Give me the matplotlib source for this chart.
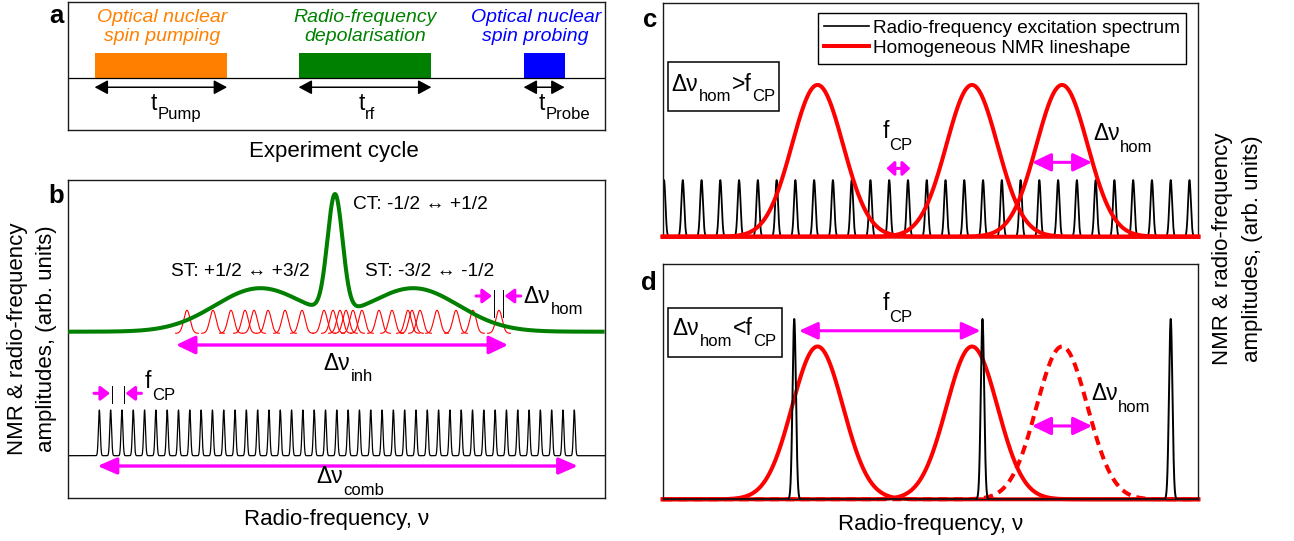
import numpy as np
import matplotlib
matplotlib.use('Agg')
import matplotlib.pyplot as plt
from matplotlib.patches import Rectangle
from matplotlib.lines import Line2D

# ---------------------------------------------------------------- data ----
# Panel a: one experiment cycle (time, arb. units)
stage_labels = ['Optical nuclear\nspin pumping', 'Radio-frequency\ndepolarisation',
                'Optical nuclear\nspin probing']
stage_start = [2.67, 23.07, 45.57]
stage_end = [15.92, 36.35, 49.67]
stage_subscripts = ['Pump', 'rf', 'Probe']
cycle_end = 53.67

# Panel b: NMR spectrum (frequency in units of the comb spacing f_CP)
ct_centre, ct_sigma, ct_amp = 20.84, 0.67, 117.4
st_centres = [14.21, 27.79]
st_sigma, st_amp = 3.98, 43.4
nmr_base_b = 166.0
hom_centres_b = [7.75, 10.05, 11.64, 12.88, 13.68, 14.92, 16.42, 17.92, 19.87, 20.66,
                 21.28, 21.81, 22.43, 23.22, 24.73, 25.88, 27.29, 27.65, 28.36, 29.86,
                 31.54, 33.04, 35.34]
hom_sigma_b, hom_amp_b, hom_base_b = 0.28, 23.0, 164.4
inh_span = [6.78, 36.14]
comb_b_count, comb_b_spacing = 43, 1.0
comb_b_sigma, comb_b_amp, comb_b_base = 0.08, 45.7, 42.0

# Panels c, d: frequency in units of the panel-c comb spacing
comb_c_count, comb_c_spacing = 29, 1.0
comb_c_sigma, comb_c_amp = 0.075, 0.373
nmr_centres_cd = [8.18, 16.41, 21.21]
nmr_sigma_cd = 1.36
comb_d = [6.94, 16.97, 27.0]
comb_d_sigma, comb_d_amp = 0.09, 1.18

legend_labels = ['Radio-frequency excitation spectrum', 'Homogeneous NMR lineshape']
ct_label = 'CT: -1/2 \u2194 +1/2'
st_labels = ['ST: +1/2 \u2194 +3/2', 'ST: -3/2 \u2194 -1/2']
ylabel = 'NMR & radio-frequency\namplitudes, (arb. units)'
xlabel = 'Radio-frequency, \u03bd'

# -------------------------------------------------------------- styles ----
W, H = 1294, 541
plt.rcParams['font.family'] = ['Liberation Sans', 'DejaVu Sans']
stage_colors = ['#FF8000', '#008000', '#0000FF']
MAG = '#FF00FF'
RED = '#FF0000'
GREEN = '#007F00'
SPINE = '#1a1a1a'

fig = plt.figure(figsize=(W / 100, H / 100), dpi=100)


def axes_px(l, t, r, b):
    ax = fig.add_axes([l / W, 1 - b / H, (r - l) / W, (b - t) / H])
    ax.set_xticks([])
    ax.set_yticks([])
    for s in ax.spines.values():
        s.set_color(SPINE)
        s.set_linewidth(1.0)
    return ax


def gauss(x, c, s, a):
    return a * np.exp(-0.5 * ((x - c) / s) ** 2)


def comb(x, centres, s, a):
    c = np.asarray(centres)[:, None]
    return (a * np.exp(-0.5 * ((x[None, :] - c) / s) ** 2)).sum(axis=0)


def arrow(ax, x0, x1, y, style, color, lw, hl, hw, zorder=6):
    ax.annotate('', xy=(x1, y), xytext=(x0, y),
                arrowprops=dict(arrowstyle=f'{style},head_length={hl},head_width={hw}',
                                color=color, lw=lw, shrinkA=0, shrinkB=0,
                                mutation_scale=1),
                annotation_clip=False, zorder=zorder)


# ---------------------------------------------------------------- panel a
ax_a = axes_px(67.9, 2, 604.6, 130)
ax_a.set_xlim(0, cycle_end)
ax_a.set_ylim(-2.02, 2.98)
for s, e, col in zip(stage_start, stage_end, stage_colors):
    ax_a.bar(s, 1.0, width=e - s, align='edge', color=col, lw=0)
    arrow(ax_a, s, e, -0.35, '<|-|>', 'k', 1.1, 8, 4.3)
ax_a.axhline(0, color='k', lw=0.9)

# ---------------------------------------------------------------- panel b
ax_b = axes_px(67.9, 180, 604.6, 497.7)
xb0, xb1 = -2.78, 44.68
ax_b.set_xlim(xb0, xb1)
ax_b.set_ylim(0, 317.7)
xb = np.linspace(xb0, xb1, 9000)
green = nmr_base_b + gauss(xb, ct_centre, ct_sigma, ct_amp)
for c in st_centres:
    green = green + gauss(xb, c, st_sigma, st_amp)
ax_b.plot(xb, green, color=GREEN, lw=2.9, zorder=4, solid_capstyle='butt')
for c in hom_centres_b:
    xx = np.linspace(c - 1.0, c + 1.0, 200)
    ax_b.plot(xx, hom_base_b + gauss(xx, c, hom_sigma_b, hom_amp_b), color=RED, lw=0.8, zorder=3)
comb_b = np.arange(comb_b_count) * comb_b_spacing
ax_b.plot(xb, comb_b_base + comb(xb, comb_b, comb_b_sigma, comb_b_amp), color='k', lw=0.9)

# f_CP markers and arrows
mk_lo, mk_hi = comb_b_base + comb_b_amp + 7, comb_b_base + comb_b_amp + 24
for c in [comb_b[1] + 0.1, comb_b[2] + 0.15]:
    ax_b.plot([c, c], [mk_lo, mk_hi], color='k', lw=0.7)
arrow(ax_b, comb_b[0] - 0.47, comb_b[1] - 0.05, 104.4, '-|>', MAG, 2.2, 5.5, 4.2)
arrow(ax_b, comb_b[2] + 1.72, comb_b[2] + 0.31, 104.4, '-|>', MAG, 2.2, 5.5, 4.2)
# dnu_hom markers and arrows
hc = hom_centres_b[-1]
for c in [hc - 0.44, hc + 0.39]:
    ax_b.plot([c, c], [181.0, 207.7], color='k', lw=0.7)
arrow(ax_b, hc - 2.03, hc - 0.62, 201.7, '-|>', MAG, 2.2, 5.5, 4.2)
arrow(ax_b, hc + 1.92, hc + 0.5, 201.7, '-|>', MAG, 2.2, 5.5, 4.2)
arrow(ax_b, inh_span[0], inh_span[1], 152.7, '<|-|>', MAG, 2.4, 11.5, 5.5)
arrow(ax_b, comb_b[0] - 0.16, comb_b[-1] + 0.32, 31.7, '<|-|>', MAG, 2.4, 11.5, 5.0)

# ---------------------------------------------------------------- panel c
xc0, xc1 = -0.07, 28.47
xcd = np.linspace(xc0, xc1, 10000)
ax_c = axes_px(662.7, 3, 1198.3, 236.7)
ax_c.set_xlim(xc0, xc1)
ax_c.set_ylim(0, 1.54)
comb_c = np.arange(comb_c_count) * comb_c_spacing
ax_c.plot(xcd, comb(xcd, comb_c, comb_c_sigma, comb_c_amp), color='k', lw=1.3, zorder=2)
for c in nmr_centres_cd:
    ax_c.plot(xcd, gauss(xcd, c, nmr_sigma_cd, 1.0), color=RED, lw=2.9, zorder=3, clip_on=False)
hwhm = nmr_sigma_cd * np.sqrt(2 * np.log(2))
arrow(ax_c, comb_c[12] - 0.15, comb_c[13] + 0.13, 0.45, '<|-|>', MAG, 2.2, 4.5, 4.2)
arrow(ax_c, nmr_centres_cd[2] - hwhm, nmr_centres_cd[2] + hwhm, 0.49, '<|-|>', MAG, 2.2, 11.5, 5.5)
handles = [Line2D([], [], color='k', lw=1.2), Line2D([], [], color=RED, lw=2.9)]
leg = ax_c.legend(handles, legend_labels, loc='upper right',
                  bbox_to_anchor=(1186.4 / W, 1 - 12.7 / H), bbox_transform=fig.transFigure,
                  borderaxespad=0, fontsize=13.7, frameon=True, fancybox=False,
                  edgecolor='k', framealpha=1, borderpad=0.35, handlelength=2.35,
                  handletextpad=0.2, labelspacing=0.15)
leg.get_frame().set_linewidth(1.0)

# ---------------------------------------------------------------- panel d
ax_d = axes_px(662.7, 264, 1198.3, 499.3)
ax_d.set_xlim(xc0, xc1)
ax_d.set_ylim(0, 1.54)
for i, c in enumerate(nmr_centres_cd):
    ls = '-' if i < 2 else (0, (2.3, 1.5))
    ax_d.plot(xcd, gauss(xcd, c, nmr_sigma_cd, 1.0), color=RED, lw=2.9, ls=ls,
              zorder=2, clip_on=False)
ax_d.plot(xcd, comb(xcd, comb_d, comb_d_sigma, comb_d_amp), color='k', lw=1.4, zorder=3)
arrow(ax_d, comb_d[0] + 0.25, comb_d[1] - 0.1, 1.103, '<|-|>', MAG, 2.2, 11.3, 5.2)
arrow(ax_d, nmr_centres_cd[2] - hwhm, nmr_centres_cd[2] + hwhm, 0.48, '<|-|>', MAG, 2.2, 11.5, 5.5)

# ---------------------------------------------------------------- overlay texts
ax0 = fig.add_axes([0, 0, 1, 1])
ax0.set_xlim(0, W)
ax0.set_ylim(H, 0)
ax0.axis('off')


def rich(x, y, parts, color='k', main=16.5, sub=12, drop=8.0):
    first = ax0.text(x, y, parts[0], fontsize=main, color=color, ha='left', va='baseline')
    prev = first
    for i, p in enumerate(parts[1:], start=1):
        if i % 2 == 1:
            fs, dy = sub, 0.212 * (main - sub) - drop
        else:
            fs, dy = main, 0.0
        prev = ax0.annotate(p, xy=(1, 0), xycoords=(prev, first), xytext=(0.3, dy),
                            textcoords='offset points', fontsize=fs, color=color,
                            ha='left', va='bottom', annotation_clip=False)
    return first


# panel letters
for lab, x, y in [('a', 64, 23), ('b', 64, 203), ('c', 657, 27), ('d', 657, 290)]:
    ax0.text(x, y, lab, fontsize=18.5, fontweight='bold', ha='right', va='baseline')

# panel a
for lab, col, cx in zip(stage_labels, stage_colors, [161.8, 365.4, 535.7]):
    ax0.text(cx, 27, lab, color=col, fontsize=14, style='italic', ha='center',
             va='center', linespacing=1.22, multialignment='center')
for sub, x in zip(stage_subscripts, [151, 358.2, 538.6]):
    rich(x, 110, ['t', sub], drop=6.0)
ax0.text(334, 157, 'Experiment cycle', fontsize=16, ha='center', va='baseline')

# panel b
ax0.text(352.9, 209, ct_label, fontsize=13.8, ha='left', va='baseline')
ax0.text(170.7, 276, st_labels[0], fontsize=13.8, ha='left', va='baseline')
ax0.text(365.4, 276, st_labels[1], fontsize=13.8, ha='left', va='baseline')
rich(523.5, 303, ['\u0394\u03bd', 'hom'], drop=7.5)
rich(323.5, 370, ['\u0394\u03bd', 'inh'], drop=7.5)
rich(145.0, 388, ['f', 'CP'], drop=8.5)
rich(316, 483, ['\u0394\u03bd', 'comb'], drop=8.5)
ax0.text(336.8, 525, xlabel, fontsize=16, ha='center', va='baseline')

# panel c
ax0.add_patch(Rectangle((667.9, 61.7), 111.4, 49.3, fill=True, fc='white', ec='k', lw=1.1, zorder=1))
rich(671.5, 91, ['\u0394\u03bd', 'hom', '>f', 'CP'], drop=7.0)
rich(882.5, 138, ['f', 'CP'], drop=8.5)
rich(1093.0, 140, ['\u0394\u03bd', 'hom'], drop=8.0)

# panel d
ax0.add_patch(Rectangle((667.7, 308.3), 114.6, 49.0, fill=True, fc='white', ec='k', lw=1.1, zorder=1))
rich(672.5, 335, ['\u0394\u03bd', 'hom', '<f', 'CP'], drop=7.7)
rich(882.5, 310, ['f', 'CP'], drop=8.4)
rich(1091.0, 400, ['\u0394\u03bd', 'hom'], drop=8.0)
ax0.text(930.5, 530, xlabel, fontsize=16, ha='center', va='baseline')

# y labels
for cx, cy in [(32, 339), (1237.5, 249)]:
    ax0.text(cx, cy, ylabel, fontsize=16, rotation=90, ha='center', va='center',
             multialignment='center', linespacing=1.55)

fig.savefig('out.png', dpi=100)
